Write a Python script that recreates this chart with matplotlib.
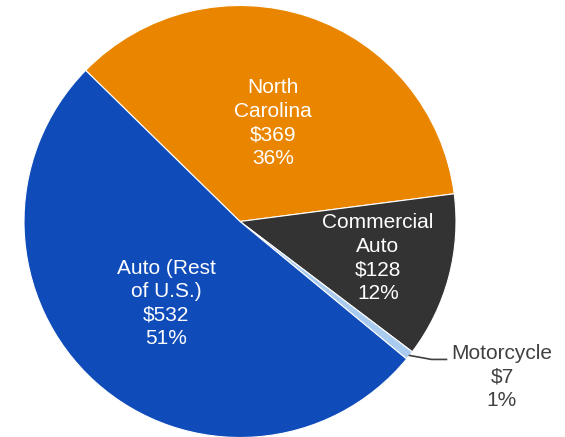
import numpy as np
import matplotlib.pyplot as plt

plt.rcParams['font.family'] = ['Liberation Sans', 'DejaVu Sans']

categories = ['North\nCarolina', 'Commercial\nAuto', 'Motorcycle', 'Auto (Rest\nof U.S.)']
values = [369, 128, 7, 532]
pcts = ['36%', '12%', '1%', '51%']
colors = ['#EA8500', '#333333', '#A9CBEF', '#0F4CBA']
label_frac = [0.48, 0.66, None, 0.51]

W, H = 565, 437
fig = plt.figure(figsize=(W / 100, H / 100), dpi=100)
ax = fig.add_axes([0, 0, 1, 1])

cx, cy, r = 240, H - 221.5, 216
wedges, _ = ax.pie(values, colors=colors, startangle=135.6, counterclock=False,
                   center=(cx, cy), radius=r, frame=True,
                   wedgeprops=dict(edgecolor='white', linewidth=0.8))
ax.set_xlim(0, W)
ax.set_ylim(0, H)
ax.set_aspect('equal')
ax.axis('off')

for w, cat, v, p, f in zip(wedges, categories, values, pcts, label_frac):
    mid = np.deg2rad((w.theta1 + w.theta2) / 2)
    txt = f'{cat}\n${v}\n{p}'
    if f is not None:
        ax.text(cx + f * r * np.cos(mid), cy + f * r * np.sin(mid), txt,
                ha='center', va='center', color='white', fontsize=15, linespacing=1.3)
    else:
        x0, y0 = cx + r * np.cos(mid), cy + r * np.sin(mid)
        ax.plot([x0, x0 + 22, x0 + 37], [y0, y0 - 4, y0 - 4], color='#404040', lw=1.2)
        ax.text(502, H - 377, txt, ha='center', va='center', color='#404040',
                fontsize=15, linespacing=1.3)

fig.savefig('out.png', dpi=100)
